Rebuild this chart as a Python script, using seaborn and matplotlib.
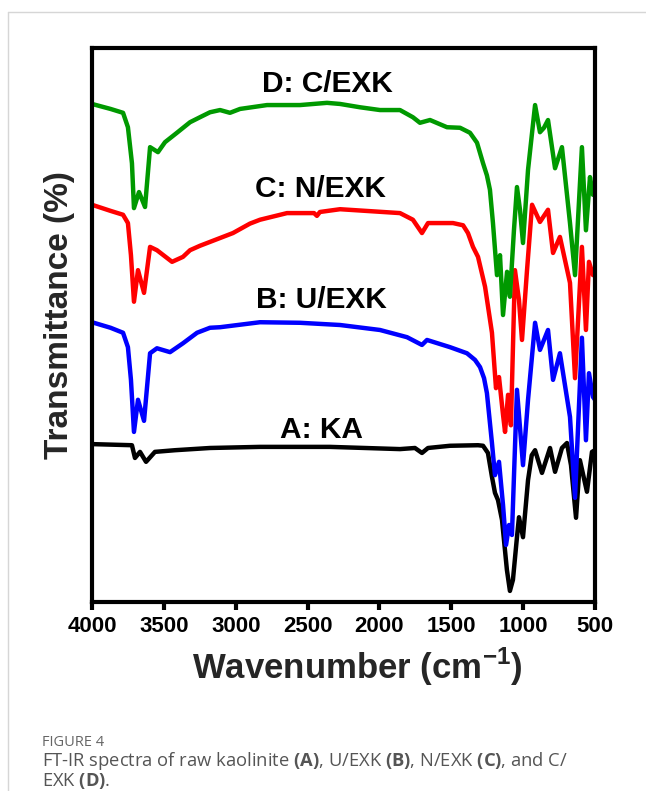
import matplotlib
matplotlib.use("Agg")
import matplotlib.pyplot as plt
from matplotlib.lines import Line2D
import seaborn as sns
import pandas as pd

# ---- spectra: wavenumber (cm^-1) and transmittance (%, stacked offsets) ----
ka_wn = [4000, 3722, 3701, 3666, 3624, 3562, 3422, 3179, 2831, 2344, 1857, 1753, 1704,
         1662, 1509, 1314, 1279, 1245, 1217, 1196, 1175, 1147, 1113, 1092, 1071, 1043,
         1029, 1001, 966, 940, 917, 869, 813, 778, 730, 695, 667, 632, 605, 556, 521, 500]
ka_t = [28.5, 28.3, 26.0, 27.1, 25.3, 27.1, 27.4, 27.8, 28.0, 28.0, 27.6, 27.8, 26.9,
        27.8, 28.2, 28.3, 28.2, 26.9, 22.6, 19.7, 18.4, 14.8, 5.8, 2.0, 4.0, 11.7,
        15.3, 11.7, 22.0, 26.5, 27.4, 23.3, 27.8, 23.5, 27.8, 28.7, 24.7, 15.2, 25.6, 19.9, 27.1, 27.4]

uexk_wn = [4000, 3871, 3784, 3750, 3729, 3708, 3680, 3638, 3596, 3548, 3457, 3367, 3269,
           3179, 3109, 2831, 2553, 2274, 1996, 1808, 1704, 1669, 1509, 1391, 1335, 1300,
           1272, 1252, 1217, 1196, 1168, 1140, 1119, 1098, 1078, 1043, 1001, 966, 917, 883,
           827, 792, 744, 674, 639, 591, 563, 542, 514, 500]
uexk_t = [50.5, 49.5, 48.6, 46.0, 40.1, 30.7, 36.5, 32.7, 44.9, 45.8, 45.1, 46.7, 48.6,
          49.5, 49.6, 50.5, 50.4, 50.0, 49.1, 47.8, 46.4, 47.3, 46.0, 44.9, 43.7, 42.4,
          40.4, 37.7, 28.7, 22.9, 25.3, 17.5, 10.3, 13.9, 12.1, 38.3, 24.7, 36.5, 50.4, 45.5,
          49.1, 40.1, 44.9, 33.4, 18.8, 47.7, 29.2, 41.3, 37.0, 36.5]

nexk_wn = [4000, 3871, 3784, 3750, 3729, 3708, 3680, 3638, 3596, 3548, 3443, 3367, 3318,
           3249, 3179, 3019, 2901, 2831, 2643, 2455, 2435, 2414, 2274, 1857, 1767, 1704, 1662,
           1488, 1418, 1384, 1349, 1314, 1265, 1217, 1189, 1168, 1140, 1126, 1105, 1085, 1057,
           1029, 1008, 973, 938, 883, 827, 792, 744, 674, 639, 591, 563, 542, 514, 500]
nexk_t = [71.7, 70.6, 69.9, 68.4, 62.6, 54.2, 59.9, 55.8, 64.1, 63.5, 61.4, 62.3, 63.5,
          64.3, 65.0, 66.6, 68.3, 69.0, 70.2, 70.2, 69.7, 70.4, 70.9, 70.2, 69.0, 66.6, 68.4,
          68.4, 68.0, 66.6, 64.1, 62.3, 56.9, 48.6, 38.6, 40.6, 33.8, 30.7, 37.4, 31.9, 59.9,
          54.5, 47.3, 59.9, 71.7, 68.6, 70.8, 63.0, 65.9, 57.6, 40.4, 64.1, 49.1, 61.4, 59.0, 59.0]

cexk_wn = [4000, 3871, 3784, 3750, 3722, 3708, 3673, 3631, 3596, 3541, 3492, 3409, 3318,
           3249, 3179, 3109, 3040, 2970, 2782, 2553, 2365, 2274, 2135, 1996, 1857, 1767, 1718,
           1648, 1530, 1439, 1370, 1321, 1279, 1252, 1231, 1210, 1182, 1161, 1140, 1112, 1092,
           1064, 1043, 1022, 1001, 966, 917, 883, 855, 827, 778, 730, 674, 639, 591, 563, 535,
           514, 500]
cexk_t = [89.9, 89.0, 88.3, 85.7, 79.2, 71.1, 74.0, 71.3, 82.1, 81.2, 83.0, 84.7, 86.6,
          87.5, 88.4, 88.8, 88.3, 89.0, 89.7, 89.7, 90.1, 89.9, 89.3, 88.8, 88.8, 87.5, 86.5,
          87.0, 85.7, 85.6, 84.7, 82.9, 79.2, 77.0, 74.4, 68.4, 59.0, 62.6, 51.8, 59.6, 55.1,
          67.1, 74.9, 70.8, 64.8, 78.0, 89.7, 84.8, 85.6, 87.0, 78.3, 82.1, 68.4, 59.0, 82.1,
          67.1, 76.7, 73.5, 73.5]

samples = ["A: KA", "B: U/EXK", "C: N/EXK", "D: C/EXK"]
colors = ["#000000", "#0000ff", "#ff0000", "#009900"]
label_wn = [2400, 2407, 2407, 2365]
label_t = [29.6, 53.1, 73.1, 92.1]
ticks = [4000, 3500, 3000, 2500, 2000, 1500, 1000, 500]

series = [(ka_wn, ka_t), (uexk_wn, uexk_t), (nexk_wn, nexk_t), (cexk_wn, cexk_t)]
frames = []
for name, (wn, t) in zip(samples, series):
    frames.append(pd.DataFrame({"wn": wn, "t": t, "sample": name}))
df = pd.concat(frames, ignore_index=True)

sns.set_theme(style="white")
plt.rcParams["font.family"] = ["Liberation Sans", "DejaVu Sans"]
plt.rcParams["mathtext.fontset"] = "custom"
plt.rcParams["mathtext.rm"] = "Open Sans"
plt.rcParams["mathtext.bf"] = "Open Sans:bold"
plt.rcParams["mathtext.sf"] = "Liberation Sans:bold"

W, H = 646, 791
fig = plt.figure(figsize=(W / 100, H / 100), dpi=100)
ax = fig.add_axes([92 / W, 1 - 602 / H, 503 / W, 554 / H])

sns.lineplot(data=df, x="wn", y="t", hue="sample", hue_order=samples,
             palette=dict(zip(samples, colors)), estimator=None, sort=False,
             linewidth=3.2, legend=False, ax=ax)
for line in ax.lines:
    line.set_solid_joinstyle("round")
    line.set_solid_capstyle("round")

for name, x, y in zip(samples, label_wn, label_t):
    ax.text(x, y, name, ha="center", va="baseline", fontsize=21.5,
            fontweight="bold", color="black")

ax.set_xlim(4000, 500)
ax.set_ylim(0, 100)
ax.set_xticks(ticks)
ax.set_xticklabels([str(v) for v in ticks], fontsize=16, fontweight="bold")
ax.set_yticks([])
ax.set_xlabel("")
ax.set_ylabel("")
ax.tick_params(axis="x", direction="out", length=6, width=3, pad=4,
               bottom=True, colors="black")
for sp in ax.spines.values():
    sp.set_visible(True)
    sp.set_linewidth(3)
    sp.set_color("black")

fig.text(357 / W, 1 - 667 / H, r"Wavenumber (cm$^{\mathsf{-1}}$)", ha="center",
         va="center", fontsize=25, fontweight="bold")
fig.text(60 / W, 1 - 315 / H, "Transmittance (%)", ha="center", va="center",
         rotation=90, fontsize=24, fontweight="bold")

# page frame and caption
fig.add_artist(Line2D([8 / W, 1], [1 - 12 / H, 1 - 12 / H], transform=fig.transFigure,
                      color="#d6d6d6", lw=1))
fig.add_artist(Line2D([8 / W, 8 / W], [0, 1 - 12 / H], transform=fig.transFigure,
                      color="#d6d6d6", lw=1))
fig.text(42 / W, 1 - 746 / H, "FIGURE 4", ha="left", va="baseline", fontsize=10.5,
         family="Open Sans", color="#666666")
fig.text(42 / W, 1 - 766 / H,
         r"FT-IR spectra of raw kaolinite $\mathbf{(A)}$, U/EXK $\mathbf{(B)}$, "
         r"N/EXK $\mathbf{(C)}$, and C/",
         ha="left", va="baseline", fontsize=13.2, family="Open Sans", color="#555555")
fig.text(42 / W, 1 - 786 / H, r"EXK $\mathbf{(D)}$.", ha="left", va="baseline",
         fontsize=13.2, family="Open Sans", color="#555555")

fig.savefig("out.png", dpi=100, facecolor="white")
